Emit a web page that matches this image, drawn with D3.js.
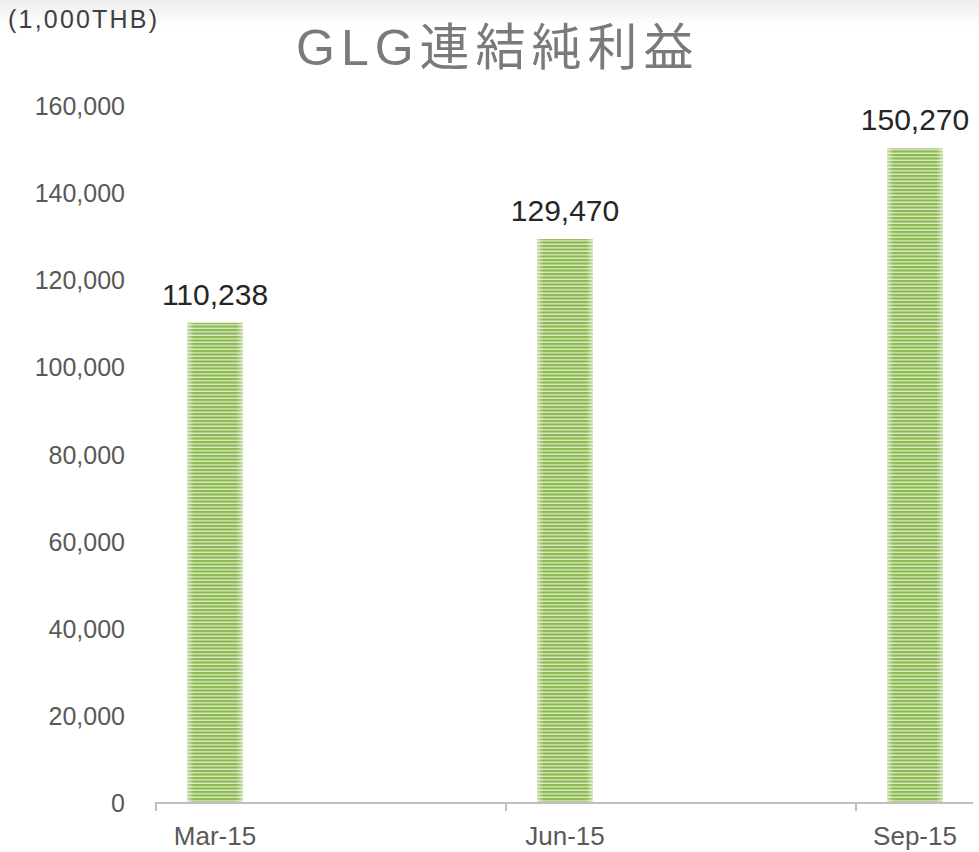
<!DOCTYPE html>
<html>
<head>
<meta charset="utf-8">
<script src="https://cdn.jsdelivr.net/npm/d3@7"></script>
<style>
  body { margin: 0; background: #fff; }
  svg { display: block; font-family: "Liberation Sans", Arial, sans-serif; }
</style>
</head>
<body>
<div id="chart"></div>
<script>
var categories = ["Mar-15", "Jun-15", "Sep-15"];
var profits = [110238, 129470, 150270];
var yTicks = [0, 20000, 40000, 60000, 80000, 100000, 120000, 140000, 160000];

var width = 979;
var height = 852;
var margin = { top: 106, bottom: 49, left: 155 };

var svg = d3.select("#chart").append("svg")
  .attr("width", width)
  .attr("height", height);

var defs = svg.append("defs");

// striped green fill
var pat = defs.append("pattern")
  .attr("id", "stripes")
  .attr("patternUnits", "userSpaceOnUse")
  .attr("width", 8)
  .attr("height", 3.5);
pat.append("rect").attr("width", 8).attr("height", 3.5).attr("fill", "#dce9c8");
pat.append("rect").attr("width", 8).attr("height", 2.1).attr("fill", "#88b84a");

// soft light edges on the bars
var edge = defs.append("linearGradient").attr("id", "edge");
edge.append("stop").attr("offset", "0%").attr("stop-color", "#fff").attr("stop-opacity", 0.55);
edge.append("stop").attr("offset", "12%").attr("stop-color", "#fff").attr("stop-opacity", 0);
edge.append("stop").attr("offset", "88%").attr("stop-color", "#fff").attr("stop-opacity", 0);
edge.append("stop").attr("offset", "100%").attr("stop-color", "#fff").attr("stop-opacity", 0.55);

// faint band at the top
var band = defs.append("linearGradient").attr("id", "band").attr("x2", 0).attr("y2", 1);
band.append("stop").attr("offset", "0%").attr("stop-color", "#eeeeee");
band.append("stop").attr("offset", "100%").attr("stop-color", "#ffffff");
svg.append("rect").attr("width", width).attr("height", 26).attr("fill", "url(#band)");

var x = d3.scalePoint()
  .domain(categories)
  .range([215, 915]);

var y = d3.scaleLinear()
  .domain([0, 160000])
  .range([height - margin.bottom, margin.top]);

var barW = 56;
var tickOffset = 59;

// y labels
svg.append("g")
  .selectAll("text")
  .data(yTicks)
  .join("text")
  .attr("x", 125)
  .attr("y", (d) => y(d))
  .attr("dy", "0.36em")
  .attr("text-anchor", "end")
  .attr("font-size", 25)
  .attr("fill", "#595959")
  .text((d) => d3.format(",")(d));

// bars
svg.append("g")
  .selectAll("rect")
  .data(profits)
  .join("rect")
  .attr("x", (d, i) => x(categories[i]) - barW / 2)
  .attr("y", (d) => y(d))
  .attr("width", barW)
  .attr("height", (d) => y(0) - y(d))
  .attr("fill", "url(#stripes)");

svg.append("g")
  .selectAll("rect")
  .data(profits)
  .join("rect")
  .attr("x", (d, i) => x(categories[i]) - barW / 2)
  .attr("y", (d) => y(d))
  .attr("width", barW)
  .attr("height", (d) => y(0) - y(d))
  .attr("fill", "url(#edge)");

// x axis line and ticks
var axisG = svg.append("g").attr("stroke", "#bfbfbf").attr("stroke-width", 2);
axisG.append("line")
  .attr("x1", margin.left)
  .attr("x2", 973)
  .attr("y1", y(0))
  .attr("y2", y(0));
axisG.selectAll("line.tick")
  .data(categories)
  .join("line")
  .attr("class", "tick")
  .attr("x1", (d) => x(d) - tickOffset)
  .attr("x2", (d) => x(d) - tickOffset)
  .attr("y1", y(0))
  .attr("y2", y(0) + 8);

// x labels
svg.append("g")
  .selectAll("text")
  .data(categories)
  .join("text")
  .attr("x", (d) => x(d))
  .attr("y", y(0) + 42)
  .attr("text-anchor", "middle")
  .attr("font-size", 26)
  .attr("fill", "#595959")
  .text((d) => d);

// value labels
svg.append("g")
  .selectAll("text")
  .data(profits)
  .join("text")
  .attr("x", (d, i) => x(categories[i]))
  .attr("y", (d) => y(d) - 18)
  .attr("text-anchor", "middle")
  .attr("font-size", 30)
  .attr("fill", "#262626")
  .text((d) => d3.format(",")(d));

// unit label
svg.append("text")
  .attr("x", 8)
  .attr("y", 28)
  .attr("font-size", 25)
  .attr("letter-spacing", 2.2)
  .attr("fill", "#404040")
  .text("(1,000THB)");

// title
svg.append("text")
  .attr("x", 296)
  .attr("y", 65)
  .attr("font-size", 50)
  .attr("letter-spacing", 6)
  .attr("fill", "#7a7a7a")
  .style("font-family", "'Liberation Sans', 'Noto Sans CJK JP', sans-serif")
  .text("GLG連結純利益");
</script>
</body>
</html>
